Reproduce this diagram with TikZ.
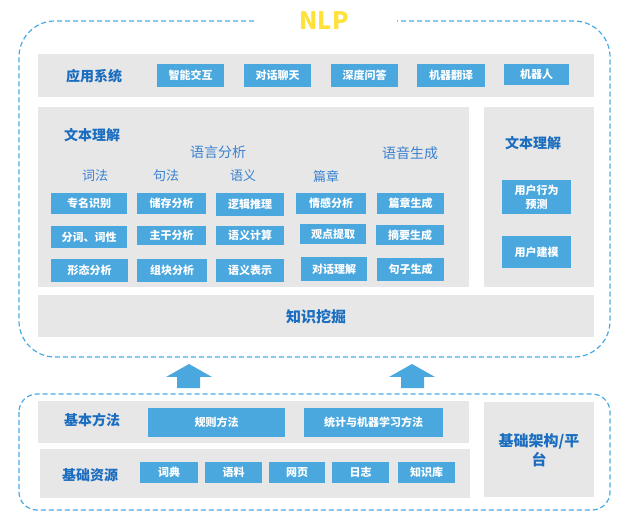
\documentclass[tikz,border=0pt]{standalone}
\usepackage{fontspec}
\setmainfont{Noto Sans CJK SC}
\definecolor{panelgray}{HTML}{E7E7E7}
\definecolor{btnblue}{HTML}{4AA8DF}
\definecolor{lblblue}{HTML}{1A6DBF}
\definecolor{subblue}{HTML}{3B82CF}
\definecolor{dashblue}{HTML}{45AAE5}
\definecolor{nlpyellow}{HTML}{FFE13A}
\tikzset{
  panel/.style={fill=panelgray, draw=none, inner sep=0pt},
  btn/.style={fill=btnblue, draw=none, text=white, font=\fontsize{11}{13}\selectfont\bfseries, inner sep=0pt, align=center},
  lbl/.style={text=lblblue, font=\fontsize{14}{17}\selectfont\bfseries, inner sep=0pt, align=center},
  sublbl/.style={text=subblue, font=\fontsize{13}{15}\selectfont, inner sep=0pt},
  dashbox/.style={draw=dashblue, line width=1.2pt, dash pattern=on 5pt off 3pt},
  uparrow/.style={fill=btnblue, draw=none}
}
\begin{document}
\begin{tikzpicture}[x=1pt,y=-1pt]
\useasboundingbox (0,0) rectangle (629,526);
% outer dashed boxes
\draw[dashbox, rounded corners=36pt] (254,21) -- (19,21) -- (19,357) -- (610,357) -- (610,21) -- (397,21);
\node[text=nlpyellow, font=\fontsize{24}{26}\selectfont\bfseries, inner sep=0pt] (nlp) at (324,21) {NLP};
\draw[dashbox, rounded corners=18pt] (19,394) rectangle (610,510);

% panels
\node[panel, minimum width=556, minimum height=43] (app) at (316,75.5) {};
\node[panel, minimum width=431, minimum height=180] (text) at (253.5,197) {};
\node[panel, minimum width=110, minimum height=180] (right) at (539,197) {};
\node[panel, minimum width=556, minimum height=42] (mining) at (316,316) {};
\node[panel, minimum width=431, minimum height=42] (method) at (253.5,422) {};
\node[panel, minimum width=430, minimum height=49] (resource) at (255,473.5) {};
\node[panel, minimum width=110, minimum height=95] (infra) at (539,449.5) {};

% application row
\node[lbl] (applbl) at (94,76) {应用系统};
\node[btn, minimum width=67, minimum height=23] (a1) at (190.5,75.5) {智能交互};
\node[btn, minimum width=67, minimum height=23] (a2) at (277.5,75.5) {对话聊天};
\node[btn, minimum width=67, minimum height=23] (a3) at (364.5,75.5) {深度问答};
\node[btn, minimum width=68, minimum height=23] (a4) at (451,75.5) {机器翻译};
\node[btn, minimum width=65, minimum height=21] (a5) at (536.5,74.5) {机器人};

% text understanding panel
\node[lbl] (tlbl) at (92,135) {文本理解};
\node[sublbl, font=\fontsize{14}{16}\selectfont] (langan) at (218,152) {语言分析};
\node[sublbl, font=\fontsize{14}{16}\selectfont] (speech) at (410,153) {语音生成};
\node[sublbl] (cifa) at (95,176) {词法};
\node[sublbl] (jufa) at (166,176) {句法};
\node[sublbl] (yuyi) at (243,176) {语义};
\node[sublbl] (pianzhang) at (326,176) {篇章};

\node[btn, minimum width=76, minimum height=21] (b11) at (89,203.5) {专名识别};
\node[btn, minimum width=69, minimum height=21] (b12) at (171.5,203.5) {储存分析};
\node[btn, minimum width=68, minimum height=23] (b13) at (250,204.5) {逻辑推理};
\node[btn, minimum width=70, minimum height=21] (b14) at (331,203.5) {情感分析};
\node[btn, minimum width=67, minimum height=21] (b15) at (410.5,203.5) {篇章生成};

\node[btn, minimum width=76, minimum height=22] (b21) at (89,237) {分词、词性};
\node[btn, minimum width=69, minimum height=19] (b22) at (171.5,235.5) {主干分析};
\node[btn, minimum width=68, minimum height=19] (b23) at (250,235.5) {语义计算};
\node[btn, minimum width=66, minimum height=20] (b24) at (333,234) {观点提取};
\node[btn, minimum width=68, minimum height=20] (b25) at (410,235) {摘要生成};

\node[btn, minimum width=77, minimum height=23] (b31) at (89.5,270.5) {形态分析};
\node[btn, minimum width=70, minimum height=23] (b32) at (172,270.5) {组块分析};
\node[btn, minimum width=68, minimum height=23] (b33) at (250,270.5) {语义表示};
\node[btn, minimum width=66, minimum height=24] (b34) at (334,269) {对话理解};
\node[btn, minimum width=67, minimum height=23] (b35) at (410.5,269.5) {句子生成};

% right panel
\node[lbl] (rlbl) at (533,143) {文本理解};
\node[btn, minimum width=69, minimum height=34, font=\fontsize{11}{14}\selectfont\bfseries] (u1) at (536.5,197) {用户行为\\预测};
\node[btn, minimum width=69, minimum height=32] (u2) at (536.5,252) {用户建模};

% knowledge mining
\node[lbl, font=\fontsize{15}{17}\selectfont\bfseries] (minlbl) at (316,317) {知识挖掘};

% arrows
\fill[uparrow] (166,377) -- (189,364) -- (212,377) -- (200,377) -- (200,388) -- (177,388) -- (177,377) -- cycle;
\fill[uparrow] (389,377) -- (412,364) -- (435,377) -- (424,377) -- (424,388) -- (401,388) -- (401,377) -- cycle;

% basic methods
\node[lbl] (mlbl) at (92,420) {基本方法};
\node[btn, minimum width=137, minimum height=29] (m1) at (216.5,422.5) {规则方法};
\node[btn, minimum width=139, minimum height=29] (m2) at (373.5,422.5) {统计与机器学习方法};

% resources
\node[lbl] (rslbl) at (90,475) {基础资源};
\node[btn, minimum width=58, minimum height=21] (r1) at (169,472.5) {词典};
\node[btn, minimum width=57, minimum height=21] (r2) at (233.5,472.5) {语料};
\node[btn, minimum width=56, minimum height=21] (r3) at (297,472.5) {网页};
\node[btn, minimum width=57, minimum height=21] (r4) at (360.5,472.5) {日志};
\node[btn, minimum width=57, minimum height=21] (r5) at (426.5,472.5) {知识库};

% infrastructure
\node[lbl, font=\fontsize{15}{19}\selectfont\bfseries] (inflbl) at (539,450) {基础架构/平\\台};
\end{tikzpicture}
\end{document}
